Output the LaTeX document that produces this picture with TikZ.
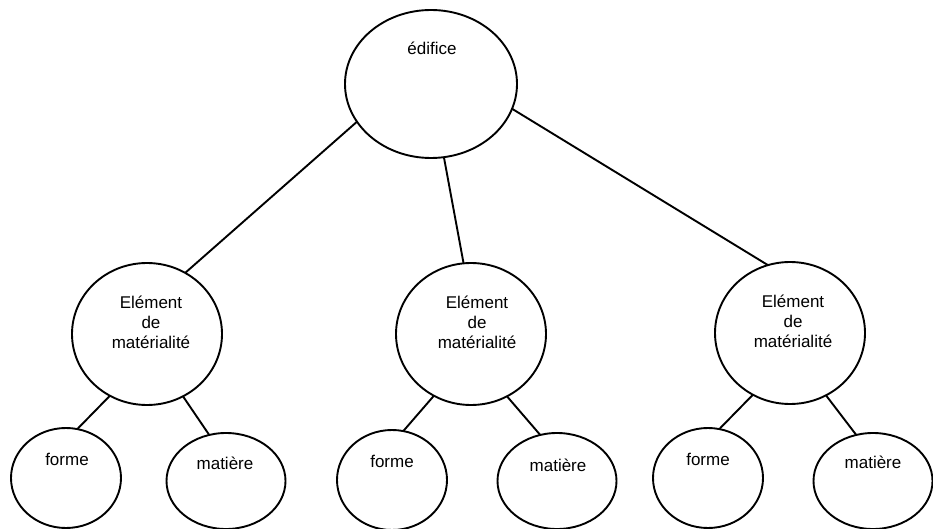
\documentclass[tikz,border=0pt]{standalone}
\usepackage{fontspec}
\setmainfont{Liberation Sans}
\usetikzlibrary{shapes.geometric}

\begin{document}
\begin{tikzpicture}[x=1pt,y=-1pt,line width=1.9pt,
    bulle/.style={draw,ellipse,inner sep=0pt,outer sep=0pt},
    haut/.style={bulle,minimum width=172pt,minimum height=148pt},
    milieu/.style={bulle,minimum width=150pt,minimum height=142pt},
    petite/.style={bulle,minimum width=110pt,minimum height=100pt},
    large/.style={bulle,minimum width=119pt,minimum height=96pt},
    mot/.style={inner sep=0pt,align=center,font=\fontsize{17}{20}\selectfont}]
    \useasboundingbox (0,0) rectangle (933,529);

    % édifice
    \node[haut] (E) at (431,84) {};
    \node[mot] (tE) at (432,48) {édifice};

    % éléments de matérialité
    \node[milieu] (M1) at (147,334) {};
    \node[milieu] (M2) at (471,334) {};
    \node[milieu] (M3) at (790,333) {};
    \node[mot] (tM1) at (151,322) {Elément\\de\\matérialité};
    \node[mot] (tM2) at (477,322) {Elément\\de\\matérialité};
    \node[mot] (tM3) at (793,321) {Elément\\de\\matérialité};

    % forme et matière
    \node[petite] (F1) at (66,478) {};
    \node[petite] (F2) at (392,480) {};
    \node[petite] (F3) at (708,478) {};
    \node[large] (T1) at (226,481) {};
    \node[large] (T2) at (557,481) {};
    \node[large] (T3) at (873,481) {};
    \node[mot] (tF1) at (67,459) {forme};
    \node[mot] (tF2) at (392,461) {forme};
    \node[mot] (tF3) at (708,459) {forme};
    \node[mot] (tT1) at (225,463) {matière};
    \node[mot] (tT2) at (558,465) {matière};
    \node[mot] (tT3) at (873,462) {matière};

    % liaisons
    \draw (E.207) -- (M1.58);
    \draw (E.280) -- (M2.96);
    \draw (E.343) -- (M3.108);
    \foreach \i in {1,2,3} {
        \draw (M\i.239) -- (F\i.77);
        \draw (M\i.300) -- (T\i.110);
    }

\end{tikzpicture}
\end{document}
